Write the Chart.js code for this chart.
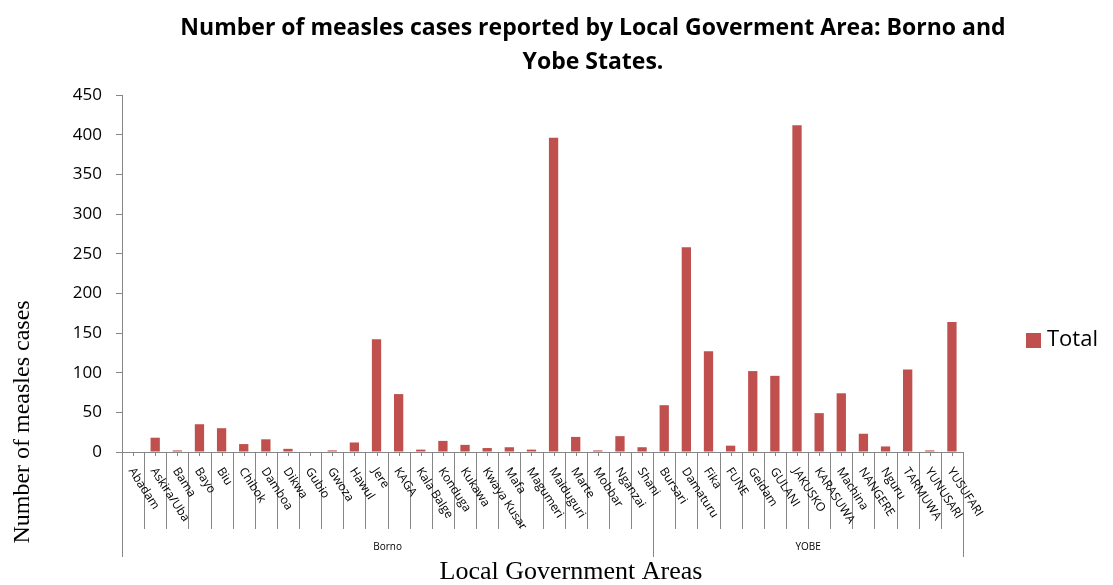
<!DOCTYPE html>
<html>
<head>
<meta charset="utf-8">
<script src="https://cdn.jsdelivr.net/npm/chart.js@4.4.1/dist/chart.umd.min.js"></script>
<style>
html, body { margin: 0; padding: 0; background: #fff; }
</style>
</head>
<body>
<canvas id="myChart" width="1113" height="585"></canvas>
<script>
// LGAs per state
var bornoLgas = ['Abadam', 'Askira/Uba', 'Bama', 'Bayo', 'Biu', 'Chibok', 'Damboa', 'Dikwa', 'Gubio', 'Gwoza',
    'Hawul', 'Jere', 'KAGA', 'Kala Balge', 'Konduga', 'Kukawa', 'Kwaya Kusar', 'Mafa', 'Magumeri', 'Maiduguri',
    'Marte', 'Mobbar', 'Nganzai', 'Shani'];
var yobeLgas = ['Bursari', 'Damaturu', 'Fika', 'FUNE', 'Geidam', 'GULANI', 'JAKUSKO', 'KARASUWA', 'Machina',
    'NANGERE', 'Nguru', 'TARMUWA', 'YUNUSARI', 'YUSUFARI'];

// measles cases (Total)
var bornoCases = [0, 18, 2, 35, 30, 10, 16, 4, 0, 2, 12, 142, 73, 3, 14, 9, 5, 6, 3, 396, 19, 2, 20, 6];
var yobeCases = [59, 258, 127, 8, 102, 96, 412, 49, 74, 23, 7, 104, 2, 164];

var states = ['Borno', 'YOBE'];
var yMax = 450;
var yStep = 50;

var labelsX = bornoLgas.concat(yobeLgas);
var dataY = bornoCases.concat(yobeCases);

var gris = '#868686';

var decoPlugin = {
    id: 'deco',
    afterDraw: function(chart) {
        var ctx = chart.ctx;
        var xs = chart.scales.x;
        var area = chart.chartArea;
        var n = labelsX.length;
        var step = xs.width / n;
        ctx.save();

        // separadores de categorias
        ctx.strokeStyle = gris;
        ctx.lineWidth = 1;
        for (var i = 0; i <= n; i++) {
            var bx = Math.round(xs.getPixelForValue(i) - step / 2) + 0.5;
            var grupo = (i === 0 || i === bornoLgas.length || i === n);
            ctx.beginPath();
            ctx.moveTo(bx, area.bottom);
            ctx.lineTo(bx, grupo ? 557 : 529);
            ctx.stroke();
        }
        // marcas pequenas en el centro
        for (var i = 0; i < n; i++) {
            var cx = Math.round(xs.getPixelForValue(i)) + 0.5;
            ctx.beginPath();
            ctx.moveTo(cx, area.bottom);
            ctx.lineTo(cx, area.bottom + 4);
            ctx.stroke();
        }

        // etiquetas giradas
        ctx.fillStyle = '#000';
        ctx.font = '12px "Open Sans"';
        ctx.textAlign = 'left';
        ctx.textBaseline = 'middle';
        for (var i = 0; i < n; i++) {
            var cx = xs.getPixelForValue(i);
            ctx.save();
            ctx.translate(cx - 2, area.bottom + 17);
            ctx.rotate(57 * Math.PI / 180);
            ctx.fillText(labelsX[i], 0, 0);
            ctx.restore();
        }

        // nombres de los estados
        ctx.font = '10px "Open Sans"';
        ctx.textAlign = 'center';
        var x0 = xs.getPixelForValue(0) - step / 2;
        var x1 = xs.getPixelForValue(bornoLgas.length) - step / 2;
        var x2 = xs.getPixelForValue(n) - step / 2;
        ctx.fillText(states[0], (x0 + x1) / 2, 547);
        ctx.fillText(states[1], (x1 + x2) / 2, 547);

        // titulo
        ctx.font = 'bold 23px "Open Sans"';
        ctx.fillText('Number of measles cases reported by Local Goverment Area: Borno and', 593, 28);
        ctx.fillText('Yobe States.', 593, 62);

        // titulos de ejes
        ctx.font = '26px "Liberation Serif"';
        ctx.fillText('Local Government Areas', 571, 572);
        ctx.font = '24px "Liberation Serif"';
        ctx.save();
        ctx.translate(23, 422);
        ctx.rotate(-Math.PI / 2);
        ctx.fillText('Number of measles cases', 0, 0);
        ctx.restore();

        // leyenda
        ctx.fillStyle = '#C0504D';
        ctx.fillRect(1026, 333, 15, 15);
        ctx.fillStyle = '#000';
        ctx.font = '22px "Open Sans"';
        ctx.textAlign = 'left';
        ctx.fillText('Total', 1047, 340);

        ctx.restore();
    }
};

const data = {
    labels: labelsX,
    datasets: [{
        label: 'Total',
        backgroundColor: '#C0504D',
        borderColor: '#C0504D',
        borderWidth: 0,
        barPercentage: 0.42,
        categoryPercentage: 1,
        data: dataY
    }]
};

const config = {
    type: 'bar',
    data: data,
    options: {
        responsive: false,
        animation: false,
        devicePixelRatio: 1,
        layout: { padding: { top: 95, right: 150, bottom: 0, left: 0 } },
        plugins: {
            legend: { display: false },
            title: { display: false },
            tooltip: { enabled: false }
        },
        scales: {
            x: {
                grid: { display: false },
                border: { color: gris, width: 1 },
                ticks: { display: false },
                afterFit: function(s) { s.height = 133; }
            },
            y: {
                min: 0,
                max: yMax,
                ticks: { stepSize: yStep, padding: 14, color: '#000', font: { family: 'Open Sans', size: 17 } },
                grid: { drawOnChartArea: false, drawTicks: true, tickLength: 6, color: gris },
                border: { color: gris, width: 1 },
                afterFit: function(s) { s.width = 122; }
            }
        }
    },
    plugins: [decoPlugin]
};

const myChart = new Chart(document.getElementById('myChart'), config);
</script>
</body>
</html>
